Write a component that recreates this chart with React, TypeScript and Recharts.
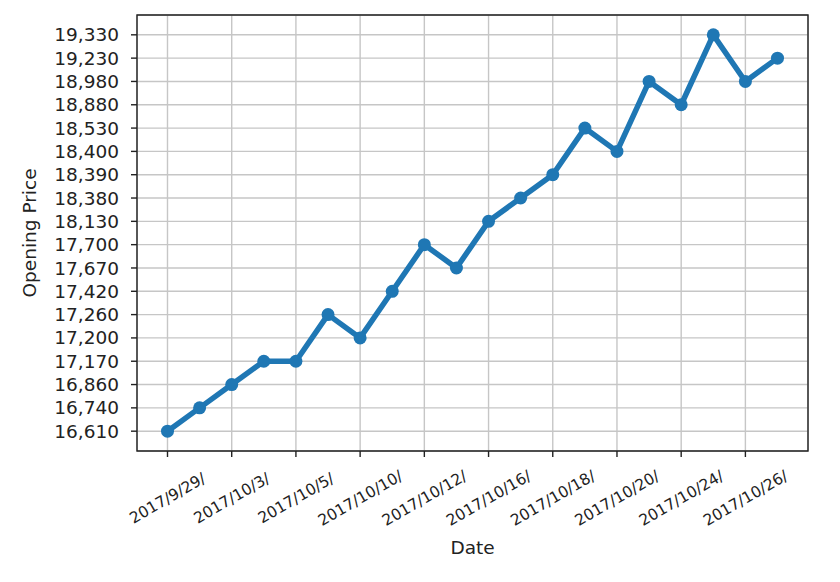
import React from 'react';
import { LineChart, Line, XAxis, YAxis, CartesianGrid, ReferenceArea, Label } from 'recharts';

const dates = [
  '2017/9/29/', '2017/10/2/', '2017/10/3/', '2017/10/4/', '2017/10/5/',
  '2017/10/6/', '2017/10/10/', '2017/10/11/', '2017/10/12/', '2017/10/13/',
  '2017/10/16/', '2017/10/17/', '2017/10/18/', '2017/10/19/', '2017/10/20/',
  '2017/10/23/', '2017/10/24/', '2017/10/25/', '2017/10/26/', '2017/10/27/',
];

const openingPrices = [
  '16,610', '16,740', '16,860', '17,170', '17,170',
  '17,260', '17,200', '17,420', '17,700', '17,670',
  '18,130', '18,380', '18,390', '18,530', '18,400',
  '18,980', '18,880', '19,330', '18,980', '19,230',
];

const priceCategories = [
  '16,610', '16,740', '16,860', '17,170', '17,200', '17,260',
  '17,420', '17,670', '17,700', '18,130', '18,380', '18,390',
  '18,400', '18,530', '18,880', '18,980', '19,230', '19,330',
];

const data = dates.map((d, i) => ({
  i,
  date: d,
  y: priceCategories.indexOf(openingPrices[i]),
}));

const xTicks = dates.map((_, i) => i).filter((i) => i % 2 === 0);
const yTicks = priceCategories.map((_, i) => i);

const FONT = '"DejaVu Sans", sans-serif';
const TEXT = '#222';

const XTick = (props: any) => {
  const { x, payload } = props;
  const cy = 498;
  return (
    <text
      x={x}
      y={cy}
      dy="0.35em"
      textAnchor="middle"
      fontSize={15.5}
      fontFamily={FONT}
      fill={TEXT}
      transform={`rotate(-30, ${x}, ${cy})`}
    >
      {dates[payload.value]}
    </text>
  );
};

export default function App() {
  return (
    <div style={{ position: 'absolute', left: 0, top: 0, width: 840, height: 582, background: '#fff' }}>
      <LineChart width={840} height={582} data={data} margin={{ top: 15, right: 32, bottom: 0, left: 0 }}>
        <CartesianGrid stroke="#c6c6c6" strokeWidth={1.4} />
        <XAxis
          dataKey="i"
          type="number"
          domain={[-0.95, 19.95]}
          ticks={xTicks}
          interval={0}
          height={131}
          tickSize={6}
          tickLine={{ stroke: '#222', strokeWidth: 1.4 }}
          axisLine={false}
          tick={<XTick />}
        >
          <Label
            content={() => (
              <text x={472.5} y={554} textAnchor="middle" fontSize={18.5} fontFamily={FONT} fill={TEXT}>
                Date
              </text>
            )}
          />
        </XAxis>
        <YAxis
          type="number"
          domain={[-0.85, 17.85]}
          ticks={yTicks}
          interval={0}
          width={137}
          tickSize={6}
          tickMargin={12}
          tickLine={{ stroke: '#222', strokeWidth: 1.4 }}
          axisLine={false}
          tickFormatter={(v: number) => priceCategories[v]}
          tick={{ fontSize: 18.5, fontFamily: FONT, fill: TEXT }}
        >
          <Label
            content={() => (
              <text
                x={36}
                y={233}
                textAnchor="middle"
                fontSize={18.5}
                fontFamily={FONT}
                fill={TEXT}
                transform="rotate(-90, 36, 233)"
              >
                Opening Price
              </text>
            )}
          />
        </YAxis>
        <ReferenceArea
          x1={-0.95}
          x2={19.95}
          y1={-0.85}
          y2={17.85}
          fill="none"
          fillOpacity={0}
          stroke="#222"
          strokeWidth={1.4}
          ifOverflow="visible"
        />
        <Line
          dataKey="y"
          stroke="#1f77b4"
          strokeWidth={5.5}
          strokeLinejoin="round"
          dot={{ r: 6.5, fill: '#1f77b4', stroke: '#1f77b4', strokeWidth: 0 }}
          activeDot={false}
          isAnimationActive={false}
        />
      </LineChart>
    </div>
  );
}
